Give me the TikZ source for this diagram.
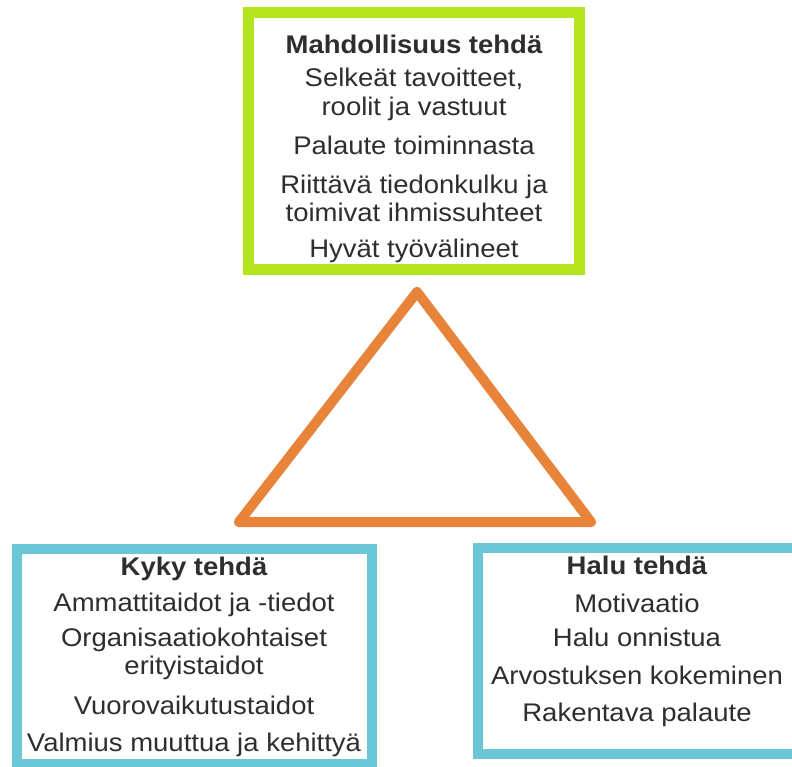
\documentclass[tikz,border=0pt]{standalone}
\usepackage{fontspec}
\setmainfont{Liberation Sans}[FakeStretch=1.078]
\definecolor{limegreen}{HTML}{B4E41E}
\definecolor{triorange}{HTML}{E8843A}
\definecolor{boxcyan}{HTML}{6BC6D6}
\definecolor{textgray}{HTML}{2E2E2E}
\begin{document}
\begin{tikzpicture}[x=1pt,y=-1pt,
  box/.style={draw=#1, line width=10pt, fill=white, inner sep=0pt, outer sep=0pt},
  txt/.style={text=textgray, font=\fontsize{25.5}{28}\selectfont, inner sep=0pt, text height=18.3pt, text depth=0pt, anchor=center},
  ttl/.style={txt, font=\fontsize{25.5}{28}\selectfont\bfseries},
  tri/.style={draw=triorange, line width=10pt, line join=round, line cap=round}]
\useasboundingbox (0,0) rectangle (792,767);
\clip (0,0) rectangle (792,767);
\fill[white] (0,0) rectangle (792,767);

% boxes
\node[box=limegreen, line width=11pt, minimum width=331pt, minimum height=257pt] (opp) at (413.5,141.5) {};
\node[box=boxcyan, minimum width=355pt, minimum height=215pt] (abil) at (194.5,656.5) {};
\node[box=boxcyan, minimum width=324pt, minimum height=206.5pt] (will) at (640,650.75) {};

% triangle
\coordinate (apex) at (417,292);
\coordinate (bl) at (239,522);
\coordinate (br) at (591,522);
\draw[tri] (apex) -- (bl) -- (br) -- cycle;

% Mahdollisuus tehdä
\node[ttl] (o0) at (414,44) {Mahdollisuus tehdä};
\node[txt] (o1) at (414,77) {Selkeät tavoitteet,};
\node[txt] (o2) at (414,106) {roolit ja vastuut};
\node[txt] (o3) at (414,145) {Palaute toiminnasta};
\node[txt] (o4) at (414,184) {Riittävä tiedonkulku ja};
\node[txt] (o5) at (414,212) {toimivat ihmissuhteet};
\node[txt] (o6) at (414,248) {Hyvät työvälineet};

% Kyky tehdä
\node[ttl] (a0) at (194,566) {Kyky tehdä};
\node[txt] (a1) at (194,602) {Ammattitaidot ja -tiedot};
\node[txt] (a2) at (194,637) {Organisaatiokohtaiset};
\node[txt] (a3) at (194,665) {erityistaidot};
\node[txt] (a4) at (194,705) {Vuorovaikutustaidot};
\node[txt] (a5) at (194,742) {Valmius muuttua ja kehittyä};

% Halu tehdä
\node[ttl] (w0) at (637,565) {Halu tehdä};
\node[txt] (w1) at (637,603) {Motivaatio};
\node[txt] (w2) at (637,637) {Halu onnistua};
\node[txt] (w3) at (637,675) {Arvostuksen kokeminen};
\node[txt] (w4) at (637,712) {Rakentava palaute};
\end{tikzpicture}
\end{document}
